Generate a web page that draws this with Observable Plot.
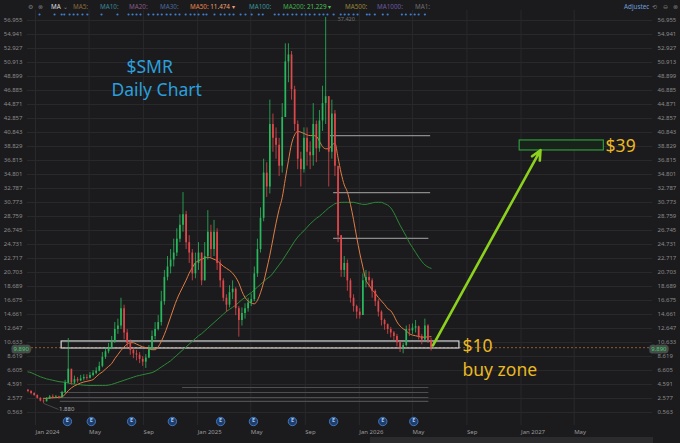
<!DOCTYPE html>
<html><head><meta charset="utf-8">
<script src="https://cdn.jsdelivr.net/npm/d3@7"></script>
<script src="https://cdn.jsdelivr.net/npm/@observablehq/plot@0.6"></script>
<style>
html,body{margin:0;padding:0;background:#1b1b1d;}
#wrap{position:relative;width:680px;height:443px;overflow:hidden;background:#1b1b1d;}
#bar{position:absolute;left:0;top:0;width:680px;height:12px;font:6.3px "Noto Sans",sans-serif;white-space:nowrap;}
#bar span{position:absolute;top:2px;}
#scroll{position:absolute;left:370px;top:437px;width:283px;height:6px;background:#2b2b2d;}
</style></head><body>
<div id="wrap"><div id="chart"></div>
<div id="bar">
<span style="left:28px;color:#777">⚙</span>
<span style="left:38px;color:#777">⊗</span>
<span style="left:51px;color:#ddd">MA</span>
<span style="left:63px;color:#888">⌄</span>
<span style="left:73px;color:#8c6a3c">MA5:</span>
<span style="left:100px;color:#3a8796">MA10:</span>
<span style="left:129px;color:#875a87">MA20:</span>
<span style="left:160px;color:#4a6a9a">MA30:</span>
<span style="left:190px;color:#e8834a">MA50: <span style="position:static;color:#f0a070">11.474 ▾</span></span>
<span style="left:249px;color:#38959b">MA100:</span>
<span style="left:283px;color:#3fae48">MA200: <span style="position:static;color:#4cc055">21.229 ▾</span></span>
<span style="left:345px;color:#98843a">MA500:</span>
<span style="left:377px;color:#6a5aa0">MA1000:</span>
<span style="left:415px;color:#6e6e6e">MA1:</span>
<span style="left:624px;color:#6f9fdc">Adjustec</span>
<span style="left:652px;color:#777">⟲</span>
<span style="left:663px;color:#777">⊖</span>
<span style="left:673px;color:#777">⊗</span>
</div>
<div id="scroll"></div>
</div>
<script>
// ---- weekly candles ----
const firstWeek = "2023-12-15";
const opens = [
3.8,3.6,3.3,3.0,2.6,2.2,2.1,2.5,2.8,2.7,
2.8,2.7,3.4,4.8,6.8,4.8,5.3,5.1,5.4,5.6,
5.5,5.9,6.2,6.5,7.2,8.5,9.3,9.8,10.8,12.5,
13.0,15.5,12.0,10.5,9.5,9.0,8.8,8.2,7.8,8.4,
9.6,11.5,12.5,13.5,16.5,20.0,21.5,22.5,23.5,25.5,
27.5,29.0,25.0,23.5,20.5,22.0,23.5,19.5,23.0,26.5,
24.0,26.5,22.0,19.5,17.0,16.0,17.8,18.3,15.5,13.8,
14.8,15.5,16.3,16.8,20.5,24.0,28.5,35.0,33.0,42.0,
40.0,39.0,36.0,43.0,51.0,52.0,47.0,42.0,37.0,35.5,
40.0,38.0,37.5,42.0,38.5,42.5,45.0,46.0,38.0,43.5,
36.0,26.0,21.0,22.0,19.5,17.0,15.8,15.0,14.5,19.5,
20.0,19.5,18.0,16.5,15.0,13.8,13.2,12.5,12.0,11.5,
10.6,9.9,10.2,12.5,12.3,12.7,12.9,11.5,11.0,13.0,
10.9];
const highs = [
3.8,3.7,3.4,3.1,2.7,2.4,2.7,3.0,3.1,3.0,
2.9,3.6,5.2,11.2,6.5,5.8,5.6,5.9,6.0,6.0,
6.3,6.6,7.0,7.8,9.2,9.8,10.5,11.5,13.5,14.0,
17.0,16.0,12.5,11.0,9.8,9.5,9.2,8.6,8.9,10.2,
12.3,13.5,14.5,18.0,21.0,23.0,24.0,25.5,27.0,29.0,
32.2,29.5,26.0,24.0,23.5,25.0,23.5,25.0,29.6,27.5,
28.2,27.0,22.5,19.8,17.5,18.8,19.5,18.5,15.8,15.6,
16.2,17.0,17.6,21.5,25.5,30.0,37.0,36.5,45.5,43.5,
41.5,40.0,45.0,53.6,53.6,52.5,47.5,42.5,38.0,41.5,
41.5,39.5,45.0,42.5,44.0,47.5,57.4,46.0,45.5,44.0,
35.0,26.0,23.0,22.5,19.8,17.5,16.0,15.5,20.5,21.0,
20.8,19.8,18.2,16.8,15.2,14.0,13.3,12.8,12.2,11.8,
10.8,10.5,13.0,13.2,13.3,13.8,13.0,11.8,14.0,13.2,
11.2];
const lows = [
3.4,3.1,2.9,2.5,2.1,1.88,2.1,2.5,2.5,2.6,
2.5,2.7,3.4,4.7,4.5,4.6,4.8,5.0,5.1,5.2,
5.4,5.7,6.0,6.4,7.0,8.2,9.0,9.6,10.5,11.8,
12.5,11.0,9.8,8.8,8.3,8.0,7.6,7.2,6.9,8.3,
9.5,11.0,12.3,13.0,16.0,19.5,20.5,21.5,23.0,25.0,
26.5,24.0,22.0,19.5,19.8,21.0,18.8,19.5,22.5,22.8,
23.0,21.0,18.5,16.5,15.0,15.6,16.8,14.5,11.4,13.0,
14.0,15.0,15.8,16.5,20.0,23.5,28.0,31.5,32.0,38.0,
37.0,34.5,35.0,43.0,48.0,45.5,41.0,35.5,33.0,35.0,
36.0,35.5,36.0,36.5,38.0,41.0,42.0,33.0,37.0,34.5,
25.0,20.0,20.0,18.0,16.3,15.0,14.0,14.0,14.5,18.5,
18.5,17.0,15.8,14.3,13.0,12.4,11.8,11.3,10.9,10.0,
9.2,9.0,10.0,11.5,11.8,12.0,11.0,10.3,10.8,10.5,
9.4];
const closes = [
3.6,3.3,3.0,2.6,2.2,2.1,2.5,2.8,2.7,2.8,
2.7,3.4,4.8,6.8,4.8,5.3,5.1,5.4,5.6,5.5,
5.9,6.2,6.5,7.2,8.5,9.3,9.8,10.8,12.5,13.0,
15.5,12.0,10.5,9.5,9.0,8.8,8.2,7.8,8.4,9.6,
11.5,12.5,13.5,16.5,20.0,21.5,22.5,23.5,25.5,27.5,
29.0,25.0,23.5,20.5,22.0,23.5,19.5,23.0,26.5,24.0,
26.5,22.0,19.5,17.0,16.0,17.8,18.3,15.5,13.8,14.8,
15.5,16.3,16.8,20.5,24.0,28.5,35.0,33.0,42.0,40.0,
39.0,36.0,43.0,51.0,52.0,47.0,42.0,37.0,35.5,40.0,
38.0,37.5,42.0,38.5,42.5,45.0,46.0,38.0,43.5,36.0,
26.0,21.0,22.0,19.5,17.0,15.8,15.0,14.5,19.5,20.0,
19.5,18.0,16.5,15.0,13.8,13.2,12.5,12.0,11.5,10.6,
9.9,10.2,12.5,12.3,12.7,12.9,11.5,11.0,13.0,10.9,
9.89];
const ma50 = [
null,null,null,null,null,2.6,2.6,2.65,2.7,2.7,
2.75,2.8,3.2,3.7,4.1,4.4,4.6,4.8,4.95,5.05,
5.15,5.3,5.7,6.1,6.4,6.8,7.2,7.6,8.3,8.9,
9.5,10.0,10.4,10.6,10.6,10.4,10.2,10.0,9.9,9.7,
9.6,9.6,10.0,10.8,11.8,13.0,14.3,15.6,16.8,17.8,
18.7,19.6,20.6,21.4,22.1,22.4,22.6,22.8,22.9,22.8,
22.6,22.4,22.0,21.6,21.3,21.0,20.6,20.0,19.2,18.0,
17.1,16.6,16.3,16.2,16.7,17.8,19.3,21.2,23.2,25.5,
27.8,29.8,31.5,34.2,36.8,39.2,40.5,41.0,40.9,40.7,
40.5,40.4,40.4,40.3,39.6,38.8,38.5,38.5,39.0,39.3,
37.2,35.0,33.3,32.3,30.5,28.3,25.8,23.5,21.5,19.6,
18.9,18.2,17.7,17.1,16.6,16.1,15.5,15.2,14.5,13.6,
13.0,12.6,12.3,11.9,11.7,11.6,11.5,11.4,11.4,11.45,
11.47];
const ma200 = [
6.4,6.3,6.1,5.9,5.7,5.55,5.4,5.3,5.2,5.1,
5.0,4.95,4.9,4.8,4.7,4.65,4.6,4.55,4.5,4.47,
4.45,4.45,4.45,4.45,4.45,4.45,4.5,4.6,4.75,4.9,
5.05,5.2,5.35,5.5,5.65,5.8,5.9,6.0,6.1,6.2,
6.3,6.5,6.8,7.1,7.4,7.7,8.0,8.4,8.8,9.2,
9.6,10.0,10.4,10.8,11.2,11.6,11.9,12.3,12.7,13.1,
13.5,13.9,14.3,14.7,15.1,15.4,15.7,16.0,16.4,16.8,
17.1,17.5,17.8,18.2,18.6,19.0,19.4,19.8,20.1,20.6,
21.2,21.8,22.4,23.1,23.8,24.5,25.2,25.8,26.3,26.7,
27.2,27.7,28.1,28.5,28.8,29.2,29.6,30.0,30.3,30.6,
30.7,30.8,30.8,30.8,30.8,30.8,30.7,30.6,30.5,30.5,
30.6,30.7,30.8,30.8,30.8,30.6,30.4,30.0,29.3,28.4,
27.5,26.7,25.9,25.0,24.3,23.6,22.9,22.3,21.8,21.5,
21.3];

// ---- axes ----
const yTicks = [0.563,2.577,4.591,6.605,8.619,10.633,12.647,14.661,16.675,18.689,20.703,22.717,24.731,26.745,28.759,30.773,32.787,34.801,36.815,38.829,40.843,42.857,44.871,46.885,48.899,50.913,52.927,54.941,56.955];
const xTickDates = ["2024-01-01","2024-05-01","2024-09-01","2025-01-01","2025-05-01","2025-09-01","2026-01-01","2026-05-01","2026-09-01","2027-01-01","2027-05-01"];
const xTickLabels = ["Jan 2024","May","Sep","Jan 2025","May","Sep","Jan 2026","May","Sep","Jan 2027","May"];

// ---- levels drawn on the chart ----
const levelPrices = [40.4,32.2,25.6,4.16,3.44,2.72,2.15];
const levelStarts = ["2025-10-28","2025-11-04","2025-11-04","2024-11-28","2024-02-26","2024-02-26","2024-02-26"];
const levelEnds   = ["2026-06-11","2026-06-11","2026-06-07","2026-06-07","2026-06-07","2026-06-07","2026-06-07"];
const levelColors = ["#8a8a8a","#8a8a8a","#8a8a8a","#4e4e50","#4e4e50","#4e4e50","#4e4e50"];

const buyZone = {from:"2024-02-29", to:"2026-08-15", low:9.77, high:10.78};
const target  = {from:"2026-12-29", to:"2027-07-07", low:38.26, high:39.7};
const arrowPath = {fromDate:"2026-06-16", fromPrice:10.2, toDate:"2027-02-14", toPrice:38.3};
const lastPrice = 9.89;
const lowPrice = 1.88, highPrice = 57.42;

// ---- event markers ----
const newsDates = ["2024-01-10","2024-02-13","2024-02-29","2024-03-06","2024-03-18","2024-03-27","2024-04-05","2024-04-16","2024-04-27","2024-05-29","2024-07-04","2024-07-29","2024-08-07","2024-08-16","2024-08-25","2024-09-12","2024-09-23","2024-10-03","2024-10-12","2024-10-23","2024-11-01","2024-11-12","2024-11-21","2024-12-05","2024-12-16","2024-12-25","2025-01-03","2025-01-14","2025-01-21","2025-02-08","2025-02-22","2025-03-03","2025-03-14","2025-03-23","2025-04-08","2025-04-19","2025-05-03","2025-05-19","2025-05-28","2025-06-24","2025-07-03","2025-07-14","2025-07-23","2025-08-03","2025-08-12","2025-08-24","2025-09-02","2025-09-11","2025-09-22","2025-10-03","2025-10-12","2025-10-21","2025-11-04","2025-11-20","2025-11-29","2025-12-08","2025-12-19","2025-12-28","2026-01-18","2026-01-24","2026-02-05","2026-02-23","2026-03-06","2026-04-07","2026-04-16","2026-04-27","2026-05-06","2026-05-15","2026-05-29"];
const earningsDates = ["2024-03-13","2024-05-06","2024-08-05","2024-11-05","2025-02-22","2025-05-07","2025-08-03","2025-11-04","2026-02-23","2026-05-04"];

// ---- annotation texts ----
const noteTexts  = ["$10","buy zone","$39"];
const noteDates  = ["2026-08-22","2026-08-22","2027-07-11"];
const notePrices = [10.13,6.6,38.9];
const titleLines = ["$SMR","Daily Chart"];

// ---------------------------------------------------------
const P = s => new Date(s);
const start = P(firstWeek);
const candles = closes.map((c, i) => ({
  date: d3.utcDay.offset(start, 7 * i),
  open: opens[i], high: highs[i], low: lows[i], close: c,
  ma50: ma50[i], ma200: ma200[i]
}));
const UP = "#27b95c", DOWN = "#e0484b";
const col = d => d.close >= d.open ? UP : DOWN;
const levels = levelPrices.map((p, i) => ({price: p, from: P(levelStarts[i]), to: P(levelEnds[i]), color: levelColors[i]}));
const xTicks = xTickDates.map(P);
const xLabel = d => xTickLabels[xTicks.findIndex(t => +t === +d)];
const notes = noteTexts.map((t, i) => ({text: t, date: P(noteDates[i]), price: notePrices[i]}));
const lowCandle = candles.find(d => d.low === lowPrice);
const highCandle = candles.find(d => d.high === d3.max(highs));

const chart = Plot.plot({
  width: 680, height: 443,
  marginLeft: 27, marginRight: 28, marginTop: 10, marginBottom: 18,
  style: {background: "#1b1b1d", color: "#8c8c8c", fontFamily: "'Noto Sans', sans-serif", fontSize: "6px", overflow: "visible"},
  x: {type: "utc", domain: [P("2024-01-01"), P("2027-01-01")], range: [35, 520.5]},
  y: {domain: [0.563, 56.955], range: [412, 20]},
  color: {type: "identity"},
  marks: [
    Plot.gridY(yTicks, {stroke: "#29292b", strokeOpacity: 1}),
    Plot.gridX(xTicks, {stroke: "#29292b", strokeOpacity: 1}),
    Plot.ruleY(levels, {y: "price", x1: "from", x2: "to", stroke: "color", strokeWidth: 1.2}),
    Plot.ruleY([lastPrice], {stroke: "#b86a32", strokeDasharray: "2,2", strokeWidth: 0.8}),
    Plot.rect([buyZone], {x1: d => P(d.from), x2: d => P(d.to), y1: "low", y2: "high", stroke: "#d6d6d6", strokeWidth: 1.2, fill: "none"}),
    Plot.rect([target], {x1: d => P(d.from), x2: d => P(d.to), y1: "low", y2: "high", stroke: "#2f9a3e", strokeWidth: 1.2, fill: "#18221a"}),
    Plot.lineY(candles, {x: "date", y: "ma200", stroke: "#2c8a38", strokeWidth: 1, curve: "monotone-x"}),
    Plot.lineY(candles, {x: "date", y: "ma50", stroke: "#e07c45", strokeWidth: 1, curve: "monotone-x"}),
    Plot.ruleX(candles, {x: "date", y1: "low", y2: "high", stroke: col, strokeWidth: 0.8}),
    Plot.ruleX(candles, {x: "date", y1: "open", y2: "close", stroke: col, strokeWidth: 1.7}),
    Plot.arrow([arrowPath], {x1: d => P(d.fromDate), y1: "fromPrice", x2: d => P(d.toDate), y2: "toPrice", stroke: "#8cd11e", strokeWidth: 2.6, headLength: 6, headAngle: 50}),
    Plot.link([lowCandle], {x1: "date", y1: "low", x2: d => d3.utcDay.offset(d.date, 34), y2: 1.0, stroke: "#666", strokeWidth: 0.6}),
    Plot.text([lowCandle], {x: d => d3.utcDay.offset(d.date, 35), y: 1.0, text: d => d.low.toFixed(3), textAnchor: "start", fill: "#a8a8a8", fontSize: 6}),
    Plot.text([highCandle], {x: "date", y: highPrice, text: () => highPrice.toFixed(3), textAnchor: "start", dx: 12, dy: 2, fill: "#6f6f6f", fontSize: 5.5}),
    Plot.dot(newsDates.map(P), {x: d => d, frameAnchor: "top", dy: 4, r: 1.1, fill: "#3d7fd2"}),
    Plot.dot(earningsDates.map(P), {x: d => d, frameAnchor: "bottom", dy: -4, r: 4.2, fill: "#1f3d6a", stroke: "#4a87d6", strokeWidth: 0.8}),
    Plot.text(earningsDates.map(P), {x: d => d, frameAnchor: "bottom", dy: -4, text: () => "E", fill: "#a8ccf4", fontSize: 5.5, fontWeight: "bold"}),
    Plot.text(notes, {x: "date", y: "price", text: "text", textAnchor: "start", fill: "#e9b824", fontSize: 17.5}),
    Plot.text([titleLines[0]], {frameAnchor: "top-left", dx: 99, dy: 50, textAnchor: "start", fill: "#2b9fdc", fontSize: 17.5}),
    Plot.text([titleLines[1]], {frameAnchor: "top-left", dx: 84, dy: 73, textAnchor: "start", fill: "#2b9fdc", fontSize: 17.5}),
    Plot.axisY(yTicks, {anchor: "left", tickSize: 0, tickPadding: 5, tickFormat: d => d.toFixed(3), fill: "#8a8a8a", fontSize: 6, label: null}),
    Plot.axisY(yTicks, {anchor: "right", tickSize: 0, tickPadding: 5, tickFormat: d => d.toFixed(3), fill: "#8a8a8a", fontSize: 6, label: null}),
    Plot.axisX(xTicks, {anchor: "bottom", tickSize: 0, tickPadding: 4, tickFormat: xLabel, textAnchor: "start", fill: "#9a9a9a", fontSize: 6, label: null}),
    Plot.text([lastPrice], {y: d => d, frameAnchor: "left", dx: -14, dy: 1, text: d => d.toFixed(3), fill: "#3fcf6a", stroke: "#474d4a", strokeWidth: 5, fontSize: 6}),
    Plot.text([lastPrice], {y: d => d, frameAnchor: "right", dx: 14, dy: 1, text: d => d.toFixed(3), fill: "#3fcf6a", stroke: "#474d4a", strokeWidth: 5, fontSize: 6})
  ]
});
document.getElementById("chart").appendChild(chart);
</script>
</body></html>
